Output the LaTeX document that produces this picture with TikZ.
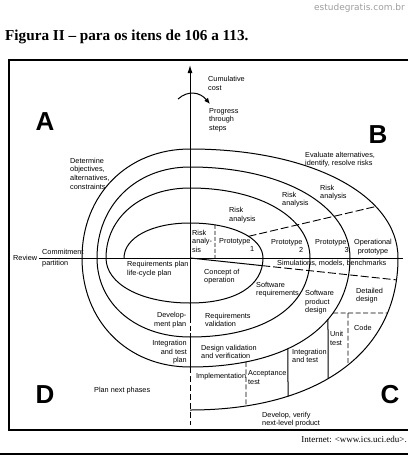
\documentclass[tikz,border=0pt]{standalone}
\usepackage{fontspec}
\setmainfont{Liberation Serif}
\newfontfamily\diag{Liberation Sans}
\newfontfamily\wmfont{DejaVu Sans}
\usetikzlibrary{intersections,arrows.meta}
\begin{document}
\begin{tikzpicture}[x=1pt,y=-1pt,
  lbl/.style={font=\diag\fontsize{7.3}{8.6}\selectfont, inner sep=0pt, align=left, anchor=west},
  lblr/.style={lbl, align=right, anchor=east},
  quad/.style={font=\diag\bfseries\fontsize{26}{26}\selectfont, inner sep=0pt},
  curve/.style={line width=1pt},
  dsh/.style={line width=0.9pt, dash pattern=on 5pt off 2.5pt},
  frame/.style={line width=1.2pt}]
\useasboundingbox (0,0) rectangle (408,455);
\def\kk{0.58}
\def\kr{0.62}
\def\kl{0.58}
% header
\node[font=\wmfont\fontsize{9}{9}\selectfont, text=black!38, anchor=east, inner sep=0pt] (wm) at (405,8) {estudegratis.com.br};
\node[font=\bfseries\fontsize{15.2}{15.2}\selectfont, anchor=west, inner sep=0pt] (title) at (5,37) {Figura II -- para os itens de 106 a 113.};
% frame
\draw[frame] (408,60) -- (9,60) -- (9,430) -- (408,430);
\draw[frame] (0,454) -- (408,454);
\node[font=\fontsize{9}{9}\selectfont, anchor=east, inner sep=0pt] (src) at (407,439) {Internet: <www.ics.uci.edu>.};
% spiral
\draw[curve] (124,258)
 .. controls (124,{258-\kk*35}) and ({190-\kk*66},223) .. (190,223)
 .. controls ({190+\kk*73},223) and (263,{258-\kk*35}) .. (263,258)
 .. controls (263,{258+\kr*45}) and ({190+\kr*73},303) .. (190,303)
 .. controls ({190-\kl*84},303) and (106,{258+\kl*45}) .. (106,258)
 .. controls (106,{258-\kk*70}) and ({190-\kk*84},188) .. (190,188)
 .. controls ({190+\kk*120},188) and (310,{258-\kk*70}) .. (310,258)
 .. controls (310,{258+\kr*79}) and ({190+\kr*120},337) .. (190,337)
 .. controls ({190-\kl*93},337) and (97,{258+\kl*79}) .. (97,258)
 .. controls (97,{258-\kk*91}) and ({190-\kk*93},167) .. (190,167)
 .. controls ({190+\kk*160},167) and (350,{258-\kk*91}) .. (350,258)
 .. controls (350,{258+\kr*109}) and ({190+\kr*160},367) .. (190,367)
 .. controls ({190-\kl*108},367) and (82,{258+\kl*109}) .. (82,258)
 .. controls (82,{258-\kk*109}) and ({190-\kk*108},149) .. (190,149)
 .. controls ({190+\kk*208},149) and (398,{258-\kk*109}) .. (398,258)
 .. controls (398,{258+\kr*152}) and ({190+\kr*208},410) .. (190,410);
% named arcs for intersections
\path[name path=t0r0] (190,223) .. controls ({190+\kk*73},223) and (263,{258-\kk*35}) .. (263,258);
\path[name path=r0b0] (263,258) .. controls (263,{258+\kr*45}) and ({190+\kr*73},303) .. (190,303);
\path[name path=r2b2] (350,258) .. controls (350,{258+\kr*109}) and ({190+\kr*160},367) .. (190,367);
\path[name path=r3b3] (398,258) .. controls (398,{258+\kr*152}) and ({190+\kr*208},410) .. (190,410);
\path[name path=t3r3] (190,149) .. controls ({190+\kk*208},149) and (398,{258-\kk*109}) .. (398,258);
% helper lines
\path[name path=lv215] (215,200) -- (215,258);
\path[name path=lup] (235,239.5) -- (395,202);
\path[name path=lrad] (190,258) -- (410,281.3);
\path[name path=lh313] (300,313) -- (405,313);
\path[name path=lv348] (348,300) -- (348,420);
\path[name path=lv328] (328,300) -- (328,420);
\path[name path=lv288] (288,330) -- (288,420);
\path[name path=lv246] (246,345) -- (246,420);
\path[name intersections={of=lv215 and t0r0, by=ra}];
\path[name intersections={of=lup and t0r0, by=ua}];
\path[name intersections={of=lup and t3r3, by=ub}];
\path[name intersections={of=lrad and r0b0, by=da}];
\path[name intersections={of=lrad and r3b3, by=db}];
\path[name intersections={of=lh313 and r2b2, by=ha}];
\path[name intersections={of=lh313 and r3b3, by=hb}];
\path[name intersections={of=lv348 and r3b3, by=cb}];
\path[name intersections={of=lv328 and r2b2, by=eu}];
\path[name intersections={of=lv328 and r3b3, by=fu}];
\path[name intersections={of=lv288 and r2b2, by=ei}];
\path[name intersections={of=lv288 and r3b3, by=fi}];
\path[name intersections={of=lv246 and r2b2, by=ea}];
\path[name intersections={of=lv246 and r3b3, by=fa}];
\coordinate (O) at (190,258);
\coordinate (c313) at (348,313);
\coordinate (ra0) at (215,258);
% separators
\draw[dsh, dash pattern=on 4pt off 2pt] (ra) -- (ra0);
\draw[dsh, dash pattern=on 8pt off 3pt] (ua) -- (ub);
\draw[curve] (O) -- (da);
\draw[dsh, dash pattern=on 8pt off 3pt] (da) -- (db);
\draw[dsh] (ha) -- (hb);
\draw[dsh] (c313) -- (cb);
\draw[curve] (eu) -- (fu);
\draw[curve] (ei) -- (fi);
\draw[dsh] (ea) -- (fa);
% axes
\coordinate (vtop) at (190,65);
\coordinate (v318) at (190,318);
\coordinate (v337) at (190,337);
\coordinate (v367) at (190,367);
\coordinate (vbot) at (190,425);
\coordinate (hl) at (39,258);
\coordinate (hr) at (403,258);
\draw[curve,-{Latex[length=8pt,width=5pt]}] (O) -- (vtop);
\draw[curve] (O) -- (v318);
\draw[dsh] (v318) -- (v337);
\draw[curve] (v337) -- (v367);
\draw[dsh, dash pattern=on 6pt off 3pt] (v367) -- (vbot);
\draw[curve] (hl) -- (hr);
\coordinate (ca) at (178,99);
\coordinate (cb2) at (210,104);
\draw[curve,-{Latex[length=6pt,width=5pt]}] (ca) .. controls (188,90) and (200,92) .. (cb2);
% quadrant letters
\node[quad] (qa) at (45,122) {A};
\node[quad] (qb) at (378,135) {B};
\node[quad] (qc) at (390,395) {C};
\node[quad] (qd) at (45,395) {D};
% labels
\node[lbl] (cum) at (208,83.5) {Cumulative\\cost};
\node[lbl] (prog) at (209,120) {Progress\\through\\steps};
\node[lbl] (det) at (70,173.5) {Determine\\objectives,\\alternatives,\\constraints};
\node[lbl] (eval) at (305,159.5) {Evaluate alternatives,\\identify, resolve risks};
\node[lbl] (ra1) at (229,215) {Risk\\analysis};
\node[lbl] (ra2) at (282,199.5) {Risk\\analysis};
\node[lbl] (ra3) at (320,192.5) {Risk\\analysis};
\node[lbl] (rais) at (192,241) {Risk\\analy-\\sis};
\node[lbl] (p1) at (219,242) {Prototype};
\node[lbl] (p1n) at (250,249) {1};
\node[lbl] (p2) at (271,243) {Prototype};
\node[lbl] (p2n) at (299,249.5) {2};
\node[lbl] (p3) at (315,243) {Prototype};
\node[lbl] (p3n) at (344.5,249.5) {3};
\node[lbl, align=center, anchor=center] (op) at (373,247) {Operational\\prototype};
\node[lbl] (sim) at (277,263.5) {Simulations, models, benchmarks};
\node[lbl] (rev) at (13,257.5) {Review};
\node[lbl] (com) at (42,252) {Commitment};
\node[lbl] (par) at (42,263.5) {partition};
\node[lbl] (rqp) at (127,269) {Requirements plan\\life-cycle plan};
\node[lbl] (con) at (204,276.5) {Concept of\\operation};
\node[lbl] (swr) at (256,289.5) {Software\\requirements};
\node[lbl] (swp) at (305,302.5) {Software\\product\\design};
\node[lbl] (dd) at (356,295.5) {Detailed\\design};
\node[lbl] (code) at (354,328) {Code};
\node[lbl] (ut) at (330,338.5) {Unit\\test};
\node[lbl] (it) at (292,356) {Integration\\and test};
\node[lbl] (at) at (248,377.5) {Acceptance\\test};
\node[lbl] (imp) at (196,376.5) {Implementation};
\node[lbl] (dvv) at (201,352) {Design validation\\and verification};
\node[lbl] (rv) at (205,320) {Requirements\\validation};
\node[lblr] (dp) at (186.5,320) {Develop-\\ment plan};
\node[lblr] (itp) at (187,352.5) {Integration\\and test\\plan};
\node[lbl] (pnp) at (94,391) {Plan next phases};
\node[lbl] (dev) at (262,419.5) {Develop, verify\\next-level product};
\end{tikzpicture}
\end{document}
